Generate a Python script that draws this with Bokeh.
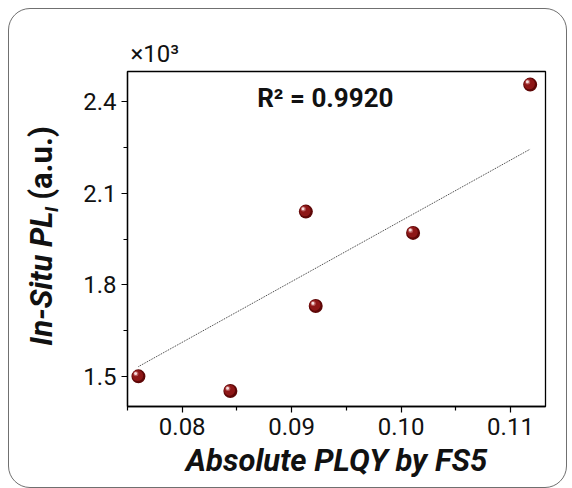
import numpy as np
from bokeh.plotting import figure
from bokeh.layouts import row
from bokeh.models import Range1d, FixedTicker, Label, PrintfTickFormatter
from bokeh.embed import file_html
from bokeh.resources import INLINE

# ---- data ----
plqy = [0.0760, 0.0844, 0.0913, 0.0922, 0.1011, 0.1118]
pl_insitu = [1.499, 1.451, 2.040, 1.730, 1.970, 2.457]   # x 10^3 (a.u.)
fit_x = [0.0760, 0.1118]
fit_y = [1.531, 2.245]
x_ticks = [0.08, 0.09, 0.10, 0.11]
x_minor = [0.075, 0.085, 0.095, 0.105, 0.115]
y_ticks = [1.5, 1.8, 2.1, 2.4]
y_minor = [1.35, 1.65, 1.95, 2.25, 2.55]
r2_text = "R² = 0.9920"
x_title = "Absolute PLQY by FS5"
y_title_main = "In-Situ PL"
y_title_sub = "I"
y_title_unit = "(a.u.)"
scale_text = "×10³"

FONT = "Roboto"
INK = "#111111"
x0, x1 = 0.075, 0.1132
y0, y1 = 1.40, 2.50
H = 478
LW = 60            # width of the strip holding the y title
W = 557 - LW
ML, MR, MT, MB = 58, 21, 62, 81

# ---- strip with the vertical y-axis title (frame aligned with the main frame) ----
t = figure(width=LW, height=H, output_backend="svg", toolbar_location=None,
           x_range=Range1d(0, 1), y_range=Range1d(0, 1),
           min_border_left=0, min_border_right=0, min_border_top=MT, min_border_bottom=MB,
           x_axis_location=None, y_axis_location=None)
t.grid.visible = False
t.outline_line_color = None
t.border_fill_color = None
t.background_fill_color = None
ang = np.pi / 2
for txt, cx, cy, size, style in ((y_title_main, 32, 128, "31px", "bold italic"),
                                 (y_title_sub, 42, 197, "18px", "bold italic"),
                                 (y_title_unit, 32, 243.5, "31px", "bold")):
    t.add_layout(Label(x=cx, y=cy, x_units="screen", y_units="screen", text=txt,
                       angle=ang, text_font=FONT, text_font_size=size,
                       text_font_style=style, text_color=INK,
                       text_baseline="middle", text_align="center"))

# ---- main plot ----
p = figure(width=W, height=H, output_backend="svg", toolbar_location=None,
           x_range=Range1d(x0, x1), y_range=Range1d(y0, y1),
           min_border_left=ML, min_border_right=MR, min_border_top=MT,
           min_border_bottom=MB)
p.border_fill_color = None
p.background_fill_color = None
p.grid.visible = False
p.outline_line_color = "black"
p.outline_line_width = 1.3
p.outline_line_alpha = 1

for ax, ticks, minor, fmt in ((p.xaxis[0], x_ticks, x_minor, "%.2f"),
                              (p.yaxis[0], y_ticks, y_minor, "%.1f")):
    ax.ticker = FixedTicker(ticks=ticks, minor_ticks=minor)
    ax.formatter = PrintfTickFormatter(format=fmt)
    ax.axis_line_color = "black"
    ax.axis_line_width = 1.3
    ax.major_tick_line_color = "black"
    ax.minor_tick_line_color = "black"
    ax.major_tick_line_width = 1.2
    ax.minor_tick_line_width = 1.2
    ax.major_tick_in = 0
    ax.major_tick_out = 6
    ax.minor_tick_in = 0
    ax.minor_tick_out = 4
    ax.major_label_text_font = FONT
    ax.major_label_text_font_size = "24px"
    ax.major_label_text_color = INK
    ax.major_label_standoff = 5

p.xaxis.axis_label = x_title
p.xaxis.axis_label_text_font = FONT
p.xaxis.axis_label_text_font_size = "31px"
p.xaxis.axis_label_text_font_style = "bold italic"
p.xaxis.axis_label_text_color = INK
p.xaxis.axis_label_standoff = 4

# scale factor shown as the title above the frame
p.title.text = scale_text
p.title.align = "left"
p.title.offset = 3
p.title.standoff = 8
p.title.text_font = FONT
p.title.text_font_size = "24px"
p.title.text_font_style = "normal"
p.title.text_color = INK

# fit line
p.line(fit_x, fit_y, line_color="#333333", line_width=1, line_dash="1 1")

# spheres: rim, body, highlight (offsets derived from the plot scale)
fw = W - ML - MR
fh = H - MT - MB
px_x = (x1 - x0) / fw
px_y = (y1 - y0) / fh
xs = np.array(plqy)
ys = np.array(pl_insitu)
p.scatter(xs, ys, size=14, fill_color="#5e0707", line_color=None)
p.scatter(xs - 0.8 * px_x, ys + 0.8 * px_y, size=11, fill_color="#8e1717", line_color=None)
p.scatter(xs - 2.5 * px_x, ys + 2.5 * px_y, size=5, fill_color="#b85a5a", line_color=None)
p.scatter(xs - 2.8 * px_x, ys + 2.8 * px_y, size=3, fill_color="#f6dede", line_color=None)

# R^2 annotation
p.add_layout(Label(x=129.7, y=309, x_units="screen", y_units="screen", text=r2_text,
                   text_font=FONT, text_font_size="26px", text_font_style="bold",
                   text_color=INK, text_baseline="alphabetic"))

layout = row(t, p)
layout.styles = {"margin-left": "8px", "margin-top": "8px",
                 "border": "1px solid #707070", "border-radius": "22px"}

open("out.html", "w").write(file_html(layout, INLINE))
